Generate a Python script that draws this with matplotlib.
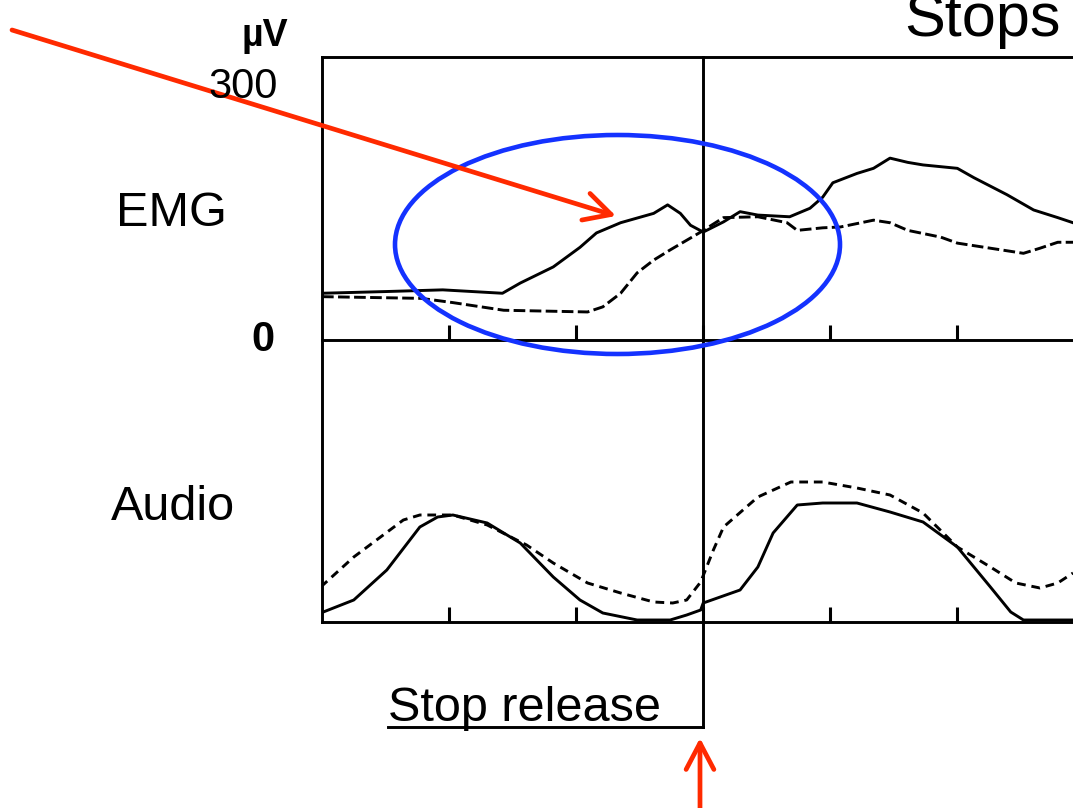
import matplotlib
matplotlib.use("Agg")
import matplotlib.pyplot as plt
from matplotlib.patches import Ellipse, FancyArrowPatch
from matplotlib.lines import Line2D
from matplotlib.transforms import blended_transform_factory

plt.rcParams['font.family'] = ['Liberation Sans', 'DejaVu Sans']

# ---------------- data (time in ms relative to stop release) ----------------
emg_solid_t = [-300, -250, -205, -158, -144, -118, -97, -84, -65, -39, -28, -18, -10, 0,
               16, 29, 43, 68, 84, 94, 102, 121, 134, 147, 161, 173, 200, 213, 239, 260, 279, 291]
emg_solid_v = [55, 57, 59, 55, 67, 86, 109, 126, 138, 149, 159, 149, 135, 127,
               139, 151, 147, 145, 155, 168, 185, 196, 202, 214, 209, 206, 202, 191, 171, 153, 144, 138]

emg_dash_t = [-300, -222, -197, -157, -91, -79, -65, -52, -39, -26, -2,
              16, 43, 66, 74, 94, 108, 134, 147, 161, 187, 200, 226, 252, 265, 279, 291]
emg_dash_v = [51, 49, 44, 35, 33, 39, 55, 79, 94, 106, 127,
              144, 145, 138, 129, 132, 133, 141, 138, 129, 121, 114, 108, 102, 108, 115, 115]

audio_solid_t = [-301, -275, -249, -223, -209, -197, -170, -144, -118, -97, -79, -52, -26, -13, -2,
                 0, 29, 43, 55, 74, 94, 121, 147, 173, 200, 226, 242, 252, 291]
audio_solid_v = [9, 22, 52, 95, 105, 107, 99, 79, 45, 22, 9, 2, 2, 7, 12,
                 19, 32, 55, 89, 117, 119, 119, 110, 100, 75, 35, 10, 2, 2]

audio_dash_t = [-301, -275, -236, -223, -197, -170, -139, -118, -91, -65, -39, -24, -13, -2,
                8, 16, 43, 69, 94, 121, 147, 173, 200, 226, 246, 265, 279, 291]
audio_dash_v = [35, 65, 102, 107, 107, 97, 77, 59, 39, 29, 20, 19, 22, 40,
                72, 95, 125, 140, 140, 134, 127, 109, 75, 55, 39, 34, 39, 49]

time_ticks = [-200, -100, 0, 100, 200]
emg_labels = ["300", "0"]

W, H = 1073, 808
fig = plt.figure(figsize=(W / 100, H / 100), dpi=100)

def fx(px):
    return px / W

def fy(py):
    return 1 - py / H

x_left, x_right = 322, 1073
y_top, y_mid, y_bot = 57, 340, 622

ax_emg = fig.add_axes([fx(x_left), fy(y_mid), fx(x_right) - fx(x_left), fy(y_top) - fy(y_mid)])
ax_aud = fig.add_axes([fx(x_left), fy(y_bot), fx(x_right) - fx(x_left), fy(y_mid) - fy(y_bot)])

lw_frame = 2.1
lw_curve = 2.1
for ax in (ax_emg, ax_aud):
    ax.set_xlim(-300, 291)
    ax.set_xticks(time_ticks)
    ax.set_xticklabels([])
    ax.set_yticks([])
    ax.tick_params(axis='x', direction='in', length=11, width=2.2, color='black')
    ax.spines['right'].set_visible(False)
    for s in ('left', 'bottom', 'top'):
        ax.spines[s].set_linewidth(lw_frame)
    ax.patch.set_alpha(0)

ax_emg.set_ylim(0, 333)
ax_aud.set_ylim(0, 282)
ax_aud.spines['top'].set_visible(False)

ax_emg.plot(emg_solid_t, emg_solid_v, color='black', lw=lw_curve, solid_joinstyle='round')
ax_emg.plot(emg_dash_t, emg_dash_v, color='black', lw=lw_curve, linestyle=(0, (4, 1.5)))
ax_aud.plot(audio_solid_t, audio_solid_v, color='black', lw=lw_curve, solid_joinstyle='round')
ax_aud.plot(audio_dash_t, audio_dash_v, color='black', lw=lw_curve, linestyle=(0, (3, 2)))

# vertical stop-release line through both panels, down to the label underline
bt = blended_transform_factory(ax_emg.transData, fig.transFigure)
y_under = fy(727)
fig.add_artist(Line2D([0, 0], [fy(y_top), y_under], transform=bt, color='black', lw=2.1))
fig.add_artist(Line2D([-248, 0], [y_under, y_under], transform=bt, color='black', lw=2.1))

# ---------------- overlay for labels and annotations (pixel coords) ----------------
ov = fig.add_axes([0, 0, 1, 1], zorder=10)
ov.set_xlim(0, W)
ov.set_ylim(H, 0)
ov.axis('off')
ov.patch.set_alpha(0)

ov.text(265, 36, "µV", fontsize=27, ha='center', va='center', fontweight='bold')
ov.text(243, 87, emg_labels[0], fontsize=30, ha='center', va='center')
ov.text(263, 340, emg_labels[1], fontsize=30, ha='center', va='center', fontweight='bold')
ov.text(171, 213, "EMG", fontsize=35, ha='center', va='center')
ov.text(173, 508, "Audio", fontsize=35, ha='center', va='center')
ov.text(982, 36, "Stops", fontsize=44, ha='center', va='baseline')
ov.text(524, 721, "Stop release", fontsize=35, ha='center', va='baseline')

red = '#FF2A00'
blue = '#1432FF'
ov.add_patch(Ellipse((617.5, 244.5), 445, 219, fill=False, edgecolor=blue, lw=3.3))
ov.add_patch(FancyArrowPatch((12, 30), (616, 216), arrowstyle='->,head_length=19,head_width=10',
                             color=red, lw=3.4, shrinkA=0, shrinkB=0, mutation_scale=1))
ov.add_patch(FancyArrowPatch((700, 810), (700, 738), arrowstyle='->,head_length=19,head_width=10',
                             color=red, lw=3.4, shrinkA=0, shrinkB=0, mutation_scale=1))

fig.savefig("out.png", dpi=100)
